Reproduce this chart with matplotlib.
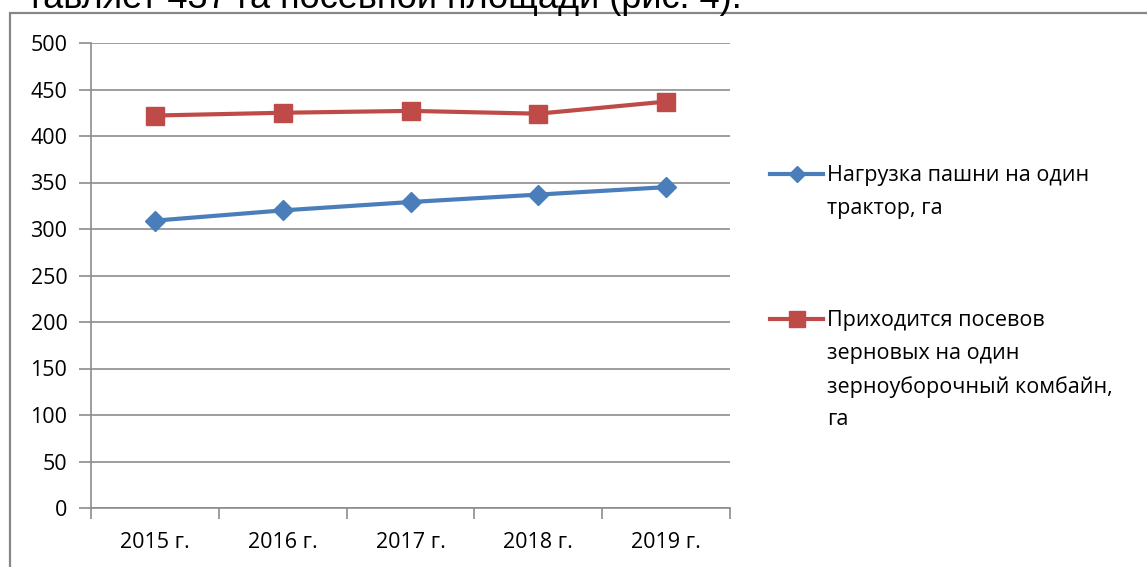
import matplotlib
matplotlib.use("Agg")
import matplotlib.pyplot as plt
from matplotlib.lines import Line2D
from matplotlib.patches import Rectangle
from matplotlib.ticker import FixedLocator, NullFormatter

# данные графика
years = ["2015 г.", "2016 г.", "2017 г.", "2018 г.", "2019 г."]
tractor_load = [309, 320, 329, 337, 345]
combine_load = [422, 425, 427, 424, 437]
label_tractor = "Нагрузка пашни на один\nтрактор, га"
label_combine = "Приходится посевов\nзерновых на один\nзерноуборочный комбайн,\nга"
y_ticks = list(range(0, 501, 50))

BLUE = "#4a7ebb"
RED = "#be4b48"
GRID = "#8c8c8c"
FONT = "Open Sans"
FS = 15.5

W, H = 1147, 567
fig = plt.figure(figsize=(W / 100, H / 100), dpi=100)

# обрезанная строка текста над рисунком
fig.text(742 / W, 1 - 8 / H, "тавляет 437 га посевной площади (рис. 4).",
         ha="right", va="baseline", fontsize=26, family="Liberation Sans",
         color="black")

# рамка области диаграммы
fig.patches.append(Rectangle((9.5 / W, -0.2), 1.2, 1.2 - 13 / H,
                             transform=fig.transFigure, fill=False,
                             edgecolor="#878787", linewidth=1.6))

ax = fig.add_axes([91 / W, 1 - 508 / H, (730 - 91) / W, (508 - 43) / H])
x = list(range(len(years)))
ax.plot(x, tractor_load, color=BLUE, lw=3, marker="D", ms=10,
        markeredgecolor=BLUE, zorder=3)
ax.plot(x, combine_load, color=RED, lw=3, marker="s", ms=13,
        markeredgecolor=RED, zorder=3)

ax.set_xlim(-0.5, len(years) - 0.5)
ax.set_ylim(0, 500)
ax.set_yticks(y_ticks)
ax.yaxis.grid(True, color=GRID, lw=1.2)
ax.set_axisbelow(True)

# деления оси X между категориями, подписи по центру
ax.xaxis.set_major_locator(FixedLocator([i - 0.5 for i in range(len(years) + 1)]))
ax.xaxis.set_major_formatter(NullFormatter())
ax.xaxis.set_minor_locator(FixedLocator(x))
ax.set_xticklabels(years, minor=True)
ax.tick_params(axis="x", which="major", length=8, color=GRID, width=1.2)
ax.tick_params(axis="x", which="minor", length=0, pad=17, labelsize=FS)
ax.tick_params(axis="y", length=9, color=GRID, width=1.2, pad=8, labelsize=FS)
for lab in ax.get_xticklabels(minor=True) + ax.get_yticklabels():
    lab.set_family(FONT)

for s in ("top", "right"):
    ax.spines[s].set_visible(False)
for s in ("left", "bottom"):
    ax.spines[s].set_color(GRID)
    ax.spines[s].set_linewidth(1.2)

# легенда: маркер на уровне первой строки подписи
for (ly, color, mk, ms, text) in [
    (174, BLUE, "D", 8, label_tractor),
    (319, RED, "s", 11, label_combine),
]:
    yy = 1 - ly / H
    fig.add_artist(Line2D([770 / W, 823 / W], [yy, yy], color=color, lw=3,
                          transform=fig.transFigure))
    fig.add_artist(Line2D([797 / W], [yy], color=color, marker=mk, ms=ms,
                          transform=fig.transFigure))
    fig.text(827 / W, yy + 9 / H, text, ha="left", va="top", fontsize=FS,
             family=FONT, linespacing=1.72)

fig.savefig("out.png", dpi=100)
